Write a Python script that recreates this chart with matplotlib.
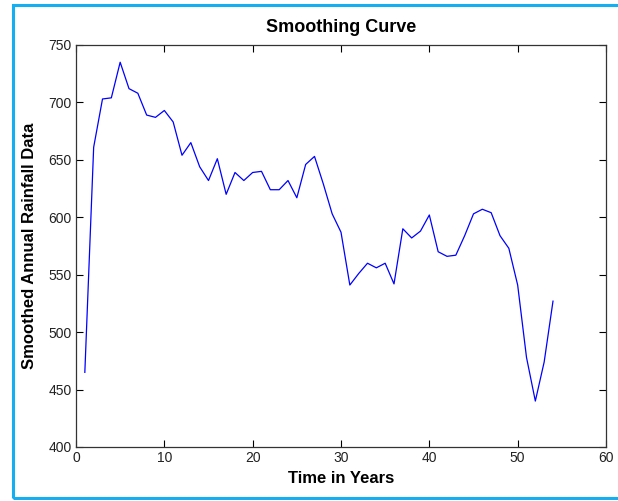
import matplotlib
matplotlib.use('Agg')
import matplotlib.pyplot as plt
from matplotlib.patches import Rectangle

plt.rcParams['font.family'] = ['Liberation Sans', 'DejaVu Sans']

years = list(range(1, 55))
rainfall = [465, 661, 703, 704, 735, 712, 708, 689, 687, 693,
            683, 654, 665, 644, 632, 651, 620, 639, 632, 639,
            640, 624, 624, 632, 617, 646, 653, 629, 603, 587,
            541, 551, 560, 556, 560, 542, 590, 582, 588, 602,
            570, 566, 567, 584, 603, 607, 604, 584, 573, 541,
            478, 440, 474, 527]

W, H = 618, 501
fig = plt.figure(figsize=(W / 100, H / 100), dpi=100)

# light blue frame round the picture (right edge is cut off in the original)
fig.patches.append(Rectangle((13 / W, 1 - 498 / H), 1.2, (498 - 5) / H,
                             transform=fig.transFigure, fill=False,
                             edgecolor='#14aff0', linewidth=2.2))

ax = fig.add_axes([76 / W, 1 - 447 / H, (606 - 76) / W, (447 - 45) / H])
ax.plot(years, rainfall, color='#0000ff', linewidth=0.9)

ax.set_xlim(0, 60)
ax.set_ylim(400, 750)
ax.set_xticks(range(0, 61, 10))
ax.set_yticks(range(400, 751, 50))
ax.tick_params(direction='in', length=5, width=0.8, top=True, right=True,
               labelsize=10, pad=3, colors='black', labelcolor='#222222')
for s in ax.spines.values():
    s.set_linewidth(0.9)
    s.set_color('#333333')

ax.set_title('Smoothing Curve', fontsize=13, fontweight='bold', pad=9)
ax.set_xlabel('Time in Years', fontsize=12, fontweight='bold', labelpad=4)
ax.set_ylabel('Smoothed Annual Rainfall Data', fontsize=12, fontweight='bold', labelpad=8)

fig.savefig('out.png', dpi=100)
